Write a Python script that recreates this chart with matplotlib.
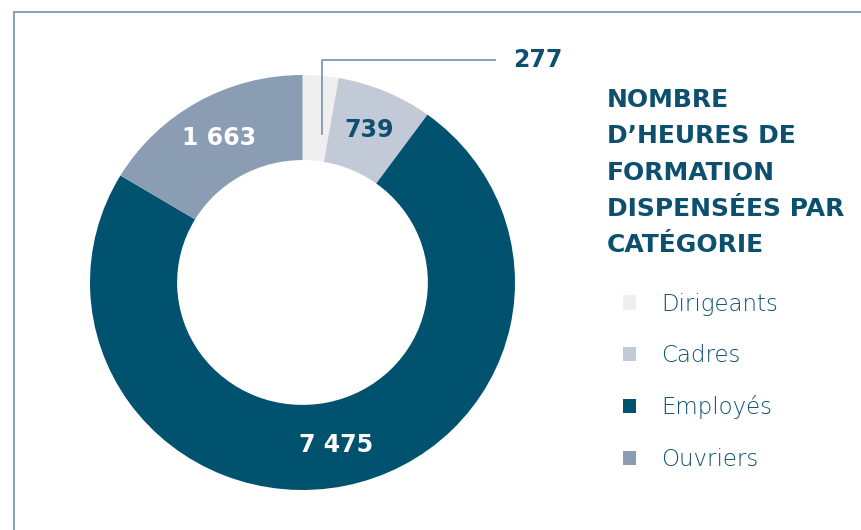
import numpy as np
import matplotlib.pyplot as plt
from matplotlib.patches import Rectangle

categories = ['Dirigeants', 'Cadres', 'Employés', 'Ouvriers']
hours = [277, 739, 7475, 1663]
colors = ['#efefef', '#c2cad8', '#00526f', '#8a9db3']
label_colors = [None, '#0c4f6e', 'white', 'white']
title = "NOMBRE\nD\u2019HEURES DE\nFORMATION\nDISPENSÉES PAR\nCATÉGORIE"

dark = '#0c4f6e'

fig = plt.figure(figsize=(8.62, 5.30), dpi=100)
fig.patch.set_facecolor('white')

# frame (top + left only, runs off the page)
fig.patches.append(Rectangle((14 / 862, -0.2), 1.2, 1.2 - 12 / 530,
                             transform=fig.transFigure, fill=False,
                             edgecolor='#7f99b1', linewidth=1.3))

# donut is slightly squashed vertically in the original
ax = fig.add_axes([90 / 862, 40 / 530, 425 / 862, 415 / 530])
wedges, _ = ax.pie(hours, colors=colors, startangle=90, counterclock=False,
                   radius=1, wedgeprops=dict(width=0.41, edgecolor='none'))
ax.set_xlim(-1, 1)
ax.set_ylim(-1, 1)
ax.set_aspect('auto')
ax.axis('off')


def fmt(v):
    return f"{v:,}".replace(',', ' ')


for w, v, lc in zip(wedges, hours, label_colors):
    mid = np.deg2rad((w.theta1 + w.theta2) / 2)
    if lc is None:
        # small slice: leader line out to the right
        x0 = 0.72 * np.cos(mid) + 0.03
        y0 = 0.72 * np.sin(mid)
        ax.plot([x0, x0, 0.904], [y0, 1.07, 1.07], color='#7f99b1',
                lw=1.3, clip_on=False)
        ax.text(0.99, 1.07, fmt(v), color=dark, fontsize=17, fontweight='bold',
                ha='left', va='center', clip_on=False)
    else:
        ax.text(0.8 * np.cos(mid), 0.8 * np.sin(mid), fmt(v), color=lc,
                fontsize=17, fontweight='bold', ha='center', va='center')

fig.text(607 / 862, 1 - 88 / 530, title, color=dark, fontsize=18,
         fontweight='bold', ha='left', va='top', linespacing=1.65)

leg = fig.legend(wedges, categories, loc='upper left',
                 bbox_to_anchor=(602 / 862, 1 - 272 / 530), frameon=False,
                 handlelength=0.58, handleheight=0.58, handletextpad=1.12,
                 labelspacing=1.24, fontsize=16.5, labelcolor='#0d5070')
for t in leg.get_texts():
    t.set_fontweight('light')

fig.savefig('out.png', dpi=100, facecolor='white')
